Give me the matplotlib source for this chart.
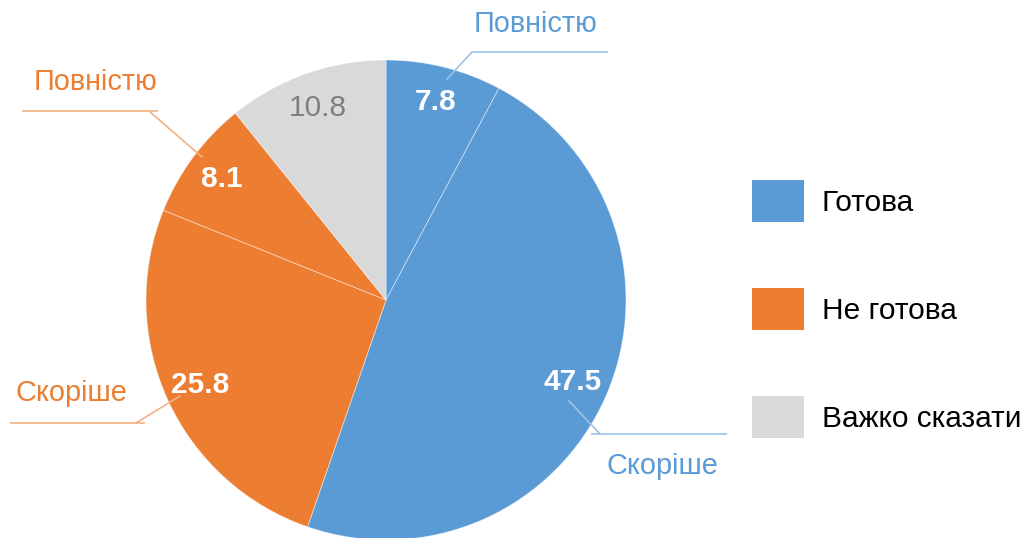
import matplotlib
matplotlib.use("Agg")
import matplotlib.pyplot as plt
import numpy as np

# ---- data ----
slice_values = [7.8, 47.5, 25.8, 8.1, 10.8]
slice_groups = ["Готова", "Готова", "Не готова", "Не готова", "Важко сказати"]
slice_sublabels = ["Повністю", "Скоріше", "Скоріше", "Повністю", None]
legend_labels = ["Готова", "Не готова", "Важко сказати"]

# ---- style ----
group_colors = {"Готова": "#5B9BD5", "Не готова": "#ED7D31", "Важко сказати": "#D9D9D9"}
leader_colors = {"Готова": "#9DC3E6", "Не готова": "#F4B183"}
value_text_colors = {"Готова": "white", "Не готова": "white", "Важко сказати": "#7F7F7F"}
value_weights = {"Готова": "bold", "Не готова": "bold", "Важко сказати": "normal"}

plt.rcParams['font.family'] = ['Liberation Sans', 'DejaVu Sans']

W, H = 1024, 538
fig = plt.figure(figsize=(W / 100, H / 100), dpi=100)
ax = fig.add_axes([0, 0, 1, 1])

def py(y):
    return H - y

cx, cy, R = 386, py(300), 240
colors = [group_colors[g] for g in slice_groups]
wedges, _ = ax.pie(slice_values, colors=colors, startangle=90, counterclock=False,
                   center=(cx, cy), radius=R, frame=True,
                   wedgeprops=dict(edgecolor=(1, 1, 1, 0.5), linewidth=0.6))
ax.set_xlim(0, W)
ax.set_ylim(0, H)
ax.set_aspect('equal')
ax.axis('off')

fs_val = 21.5
fs_sub = 20.8
fs_leg = 21.5
for w, v, g in zip(wedges, slice_values, slice_groups):
    ang = np.deg2rad((w.theta1 + w.theta2) / 2)
    x = cx + 0.85 * R * np.cos(ang)
    y = cy + 0.85 * R * np.sin(ang)
    ax.text(x, y, f"{v}", ha='center', va='center', fontsize=fs_val,
            color=value_text_colors[g], fontweight=value_weights[g])

# category sub-labels with leader lines (annotation layout, pixel positions)
sub_layout = [
    dict(text=(535, 24), hline=(472, 608, 52), elbow=472, anchor=(447, 79)),
    dict(text=(662, 466), hline=(591, 727, 434), elbow=600, anchor=(569, 401)),
    dict(text=(71, 393), hline=(10, 145, 423), elbow=136, anchor=(180, 396)),
    dict(text=(95, 82), hline=(22, 158, 111), elbow=149, anchor=(202, 157)),
]
for lab, g, lay in zip(slice_sublabels, slice_groups, sub_layout):
    if lab is None:
        continue
    c = group_colors[g]
    lc = leader_colors[g]
    tx, ty = lay['text']
    ax.text(tx, py(ty), lab, ha='center', va='center', fontsize=fs_sub, color=c)
    x0, x1, hy = lay['hline']
    ax.plot([x0, x1], [py(hy), py(hy)], color=lc, lw=1.2, solid_capstyle='butt')
    ax.plot([lay['elbow'], lay['anchor'][0]], [py(hy), py(lay['anchor'][1])],
            color=lc, lw=1.2)

# legend
from matplotlib.patches import Patch
fpx = fs_leg * 100 / 72
handles = [Patch(facecolor=group_colors[l], edgecolor='none') for l in legend_labels]
leg = fig.legend(handles, legend_labels, loc='upper left',
                 bbox_to_anchor=(752 / W, 1 - 180 / H), frameon=False,
                 fontsize=fs_leg, handlelength=52 / fpx, handleheight=1.87 * 28.5 / fpx,
                 handletextpad=0.6, labelspacing=2.21,
                 borderpad=0, borderaxespad=0)

fig.savefig("out.png", dpi=100)
